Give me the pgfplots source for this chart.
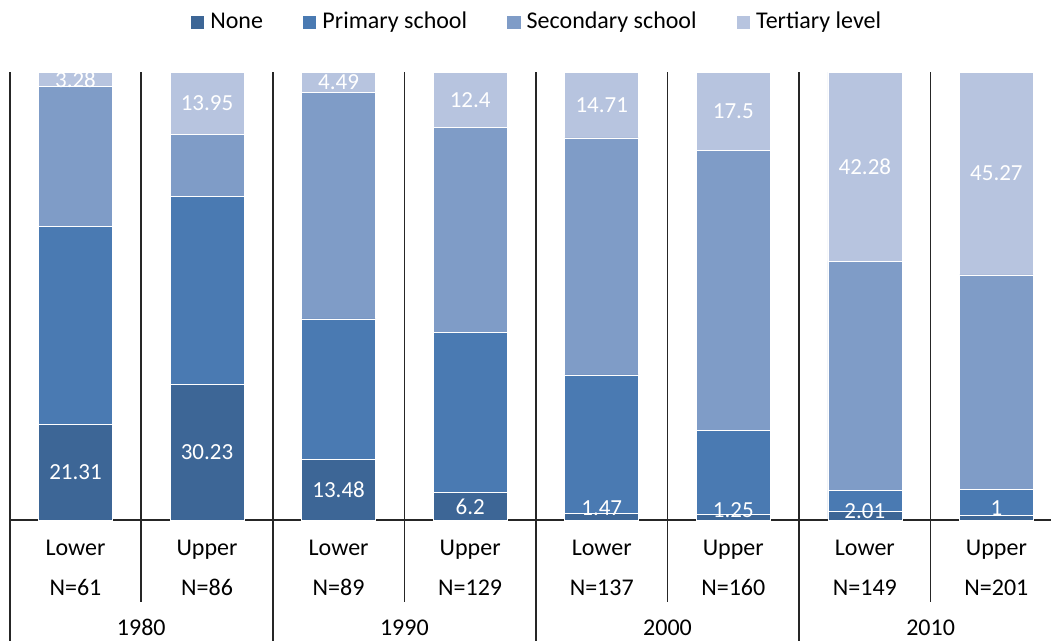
\documentclass[border=0pt]{standalone}
\usepackage{pgfplots}
\pgfplotsset{compat=1.18}
\usepackage{fontspec}
\setmainfont{Carlito}
\definecolor{cNone}{RGB}{61,102,150}
\definecolor{cPrim}{RGB}{74,122,178}
\definecolor{cSec}{RGB}{127,156,199}
\definecolor{cTer}{RGB}{183,196,223}
\pgfplotsset{
  sq/.style={legend image code/.code={\fill[#1] (0pt,-6pt) rectangle (12.5pt,6.5pt); \path (19pt,0pt);}},
}
\tikzset{sep/.style={draw=black!85, line width=1.6pt}}
\newcommand{\tf}{\fontsize{24}{28}\selectfont}
\begin{document}
\begin{tikzpicture}
\useasboundingbox (-9.7pt,-121pt) rectangle (1041.3pt,520pt);
\begin{axis}[
  at={(0pt,0pt)}, anchor=south west,
  scale only axis, width=1052.6pt, height=448pt,
  xmin=-0.5, xmax=7.5, ymin=0, ymax=100,
  ybar stacked, bar width=74pt,
  axis line style={draw=none}, major tick length=0pt,
  ytick=\empty, xtick={0,...,7},
  xticklabels={Lower,Upper,Lower,Upper,Lower,Upper,Lower,Upper},
  xticklabel style={anchor=base, inner sep=0pt, yshift=-35.7pt, font=\tf},
  clip=false,
  legend columns=4,
  legend style={at={(0.5,1)}, anchor=south, yshift=43pt, draw=none, fill=none,
    inner sep=0pt, font=\tf,
    nodes={inner sep=0pt, text height=12pt, text depth=0pt},
    /tikz/every even column/.append style={column sep=40pt}},
]
\addplot[fill=cNone, draw=white, line width=0.5pt, sq=cNone] coordinates
  {(0,21.31) (1,30.23) (2,13.48) (3,6.2) (4,1.47) (5,1.25) (6,2.01) (7,1.0)};
\addlegendentry{None}
\addplot[fill=cPrim, draw=white, line width=0.5pt, sq=cPrim] coordinates
  {(0,44.2) (1,41.97) (2,31.42) (3,35.6) (4,30.93) (5,18.7) (6,4.59) (7,5.85)};
\addlegendentry{Primary school}
\addplot[fill=cSec, draw=white, line width=0.5pt, sq=cSec] coordinates
  {(0,31.21) (1,13.85) (2,50.61) (3,45.8) (4,52.89) (5,62.55) (6,51.12) (7,47.88)};
\addlegendentry{Secondary school}
\addplot[fill=cTer, draw=white, line width=0.5pt, sq=cTer] coordinates
  {(0,3.28) (1,13.95) (2,4.49) (3,12.4) (4,14.71) (5,17.5) (6,42.28) (7,45.27)};
\addlegendentry{Tertiary level}
% separators
\draw[sep] (axis cs:-0.5,0) -- (axis cs:7.5,0);
\draw[sep] (axis cs:-0.5,100) -- ([yshift=-121pt]axis cs:-0.5,0);
\draw[sep] (axis cs:1.5,100) -- ([yshift=-121pt]axis cs:1.5,0);
\draw[sep] (axis cs:3.5,100) -- ([yshift=-121pt]axis cs:3.5,0);
\draw[sep] (axis cs:5.5,100) -- ([yshift=-121pt]axis cs:5.5,0);
\draw[sep] (axis cs:0.5,100) -- ([yshift=-81.5pt]axis cs:0.5,0);
\draw[sep] (axis cs:2.5,100) -- ([yshift=-81.5pt]axis cs:2.5,0);
\draw[sep] (axis cs:4.5,100) -- ([yshift=-81.5pt]axis cs:4.5,0);
\draw[sep] (axis cs:6.5,100) -- ([yshift=-81.5pt]axis cs:6.5,0);
% N rows
\node[anchor=base, font=\tf, inner sep=0pt] at ([yshift=-75.7pt]axis cs:0,0) {N=61};
\node[anchor=base, font=\tf, inner sep=0pt] at ([yshift=-75.7pt]axis cs:1,0) {N=86};
\node[anchor=base, font=\tf, inner sep=0pt] at ([yshift=-75.7pt]axis cs:2,0) {N=89};
\node[anchor=base, font=\tf, inner sep=0pt] at ([yshift=-75.7pt]axis cs:3,0) {N=129};
\node[anchor=base, font=\tf, inner sep=0pt] at ([yshift=-75.7pt]axis cs:4,0) {N=137};
\node[anchor=base, font=\tf, inner sep=0pt] at ([yshift=-75.7pt]axis cs:5,0) {N=160};
\node[anchor=base, font=\tf, inner sep=0pt] at ([yshift=-75.7pt]axis cs:6,0) {N=149};
\node[anchor=base, font=\tf, inner sep=0pt] at ([yshift=-75.7pt]axis cs:7,0) {N=201};
% years
\node[anchor=base, font=\tf, inner sep=0pt] at ([yshift=-115.7pt]axis cs:0.5,0) {1980};
\node[anchor=base, font=\tf, inner sep=0pt] at ([yshift=-115.7pt]axis cs:2.5,0) {1990};
\node[anchor=base, font=\tf, inner sep=0pt] at ([yshift=-115.7pt]axis cs:4.5,0) {2000};
\node[anchor=base, font=\tf, inner sep=0pt] at ([yshift=-115.7pt]axis cs:6.5,0) {2010};
\end{axis}
\begin{axis}[
  at={(0pt,0pt)}, anchor=south west,
  scale only axis, width=1052.6pt, height=448pt,
  xmin=-0.5, xmax=7.5, ymin=0, ymax=100,
  hide axis, clip=false,
]
\addplot[only marks, mark=none, nodes near coords, point meta=explicit symbolic,
  nodes near coords style={anchor=center, text=white, inner sep=0pt,
    font=\fontsize{23}{26}\selectfont}]
  table[meta=lab] {
x y lab
0 10.655 21.31
0 98.36 3.28
1 15.115 30.23
1 93.025 13.95
2 6.74 13.48
2 97.755 4.49
3 2.9 6.2
3 93.8 12.4
4 2.7 1.47
4 92.645 14.71
5 2.2 1.25
5 91.25 17.5
6 2.0 2.01
6 78.86 42.28
7 2.6 1
7 77.365 45.27
};
\end{axis}
\end{tikzpicture}
\end{document}
